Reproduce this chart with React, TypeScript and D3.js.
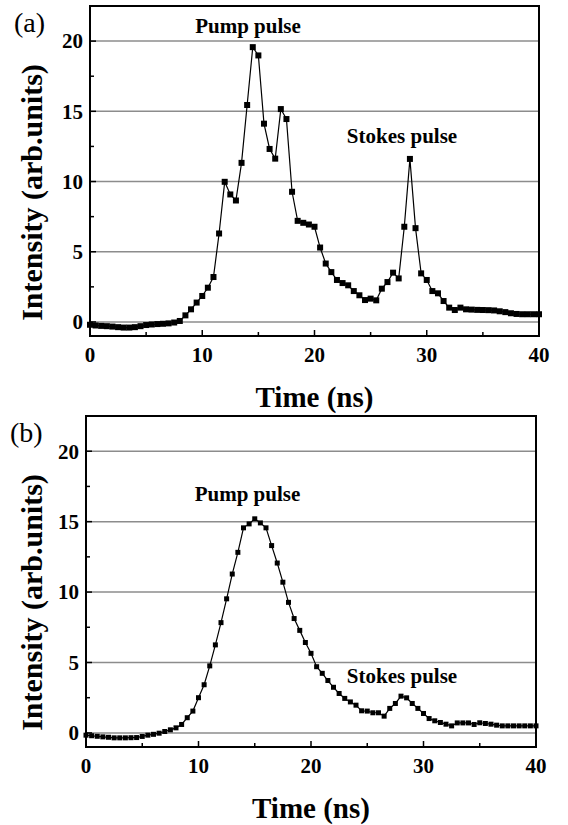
import React from 'react';
import * as d3 from 'd3';

// sampling times (ns), shared by both panels
const times = [
  0, 0.5, 1, 1.5, 2, 2.5, 3, 3.5, 4, 4.5, 5, 5.5, 6, 6.5, 7, 7.5, 8, 8.5, 9, 9.5,
  10, 10.5, 11, 11.5, 12, 12.5, 13, 13.5, 14, 14.5, 15, 15.5, 16, 16.5, 17, 17.5, 18, 18.5, 19, 19.5,
  20, 20.5, 21, 21.5, 22, 22.5, 23, 23.5, 24, 24.5, 25, 25.5, 26, 26.5, 27, 27.5, 28, 28.5, 29, 29.5,
  30, 30.5, 31, 31.5, 32, 32.5, 33, 33.5, 34, 34.5, 35, 35.5, 36, 36.5, 37, 37.5, 38, 38.5, 39, 39.5, 40,
];

// panel (a)
const intensityA = [
  -0.2, -0.25, -0.28, -0.3, -0.33, -0.37, -0.4, -0.4, -0.37, -0.3, -0.22, -0.18, -0.15, -0.13, -0.1, -0.04, 0.07, 0.47, 0.9, 1.38,
  1.85, 2.44, 3.2, 6.3, 9.98, 9.08, 8.65, 11.33, 15.45, 19.57, 18.98, 14.12, 12.32, 11.63, 15.16, 14.45, 9.27, 7.2, 7.06, 6.94,
  6.78, 5.3, 4.16, 3.55, 2.99, 2.77, 2.61, 2.2, 1.9, 1.56, 1.66, 1.54, 2.37, 2.84, 3.51, 3.1, 6.78, 11.61, 6.68, 3.46,
  2.99, 2.2, 2.04, 1.49, 1.02, 0.85, 1.02, 0.9, 0.88, 0.86, 0.85, 0.84, 0.82, 0.76, 0.7, 0.62, 0.57, 0.55, 0.55, 0.55, 0.55,
];

// panel (b)
const intensityB = [
  -0.16, -0.2, -0.24, -0.28, -0.31, -0.35, -0.35, -0.35, -0.34, -0.33, -0.25, -0.16, -0.1, -0.02, 0.1, 0.22, 0.36, 0.6, 1.08, 1.55,
  2.5, 3.42, 4.76, 6.25, 7.83, 9.52, 11.28, 12.82, 14.56, 14.84, 15.2, 14.91, 14.56, 13.3, 12.06, 10.7, 9.27, 8.12, 7.28, 6.42,
  5.65, 4.7, 4.23, 3.72, 3.24, 2.8, 2.45, 2.2, 1.97, 1.57, 1.55, 1.43, 1.43, 1.19, 1.74, 2.09, 2.61, 2.49, 2.09, 1.74,
  1.38, 1.02, 0.86, 0.74, 0.62, 0.5, 0.71, 0.71, 0.71, 0.6, 0.72, 0.67, 0.62, 0.55, 0.5, 0.5, 0.5, 0.5, 0.5, 0.5, 0.5,
];

const xMajor = [0, 10, 20, 30, 40];
const xMinor = [5, 15, 25, 35];
const yMajor = [0, 5, 10, 15, 20];
const yMinor = [2.5, 7.5, 12.5, 17.5];

const serif = { fontFamily: 'Liberation Serif' };
const serifBold = { fontFamily: 'Liberation Serif', fontWeight: 'bold' as const };

type PanelProps = {
  tag: string;
  values: number[];
  left: number;
  right: number;
  top: number;
  bottom: number;
  marker: number;
  pump: [number, number];
  stokes: [number, number];
};

function Panel({ tag, values, left, right, top, bottom, marker, pump, stokes }: PanelProps) {
  const x = d3.scaleLinear().domain([0, 40]).range([left, right]);
  const y = d3.scaleLinear().domain([-1, 22.5]).range([bottom, top]);
  const pts = times.map((t, i) => [t, values[i]] as [number, number]);
  const line = d3.line<[number, number]>().x(d => x(d[0])).y(d => y(d[1]));

  return (
    <g>
      {/* grid */}
      {yMajor.map(v => (
        <line key={'g' + v} x1={left} x2={right} y1={y(v)} y2={y(v)} stroke="#8c8c8c" strokeWidth={1.5} />
      ))}

      {/* ticks, inside */}
      {xMajor.map(v => (
        <line key={'xM' + v} x1={x(v)} x2={x(v)} y1={bottom} y2={bottom - 6} stroke="#000" strokeWidth={1.5} />
      ))}
      {xMinor.map(v => (
        <line key={'xm' + v} x1={x(v)} x2={x(v)} y1={bottom} y2={bottom - 4} stroke="#000" strokeWidth={1.5} />
      ))}
      {yMajor.map(v => (
        <line key={'yM' + v} x1={left} x2={left + 6} y1={y(v)} y2={y(v)} stroke="#000" strokeWidth={1.5} />
      ))}
      {yMinor.map(v => (
        <line key={'ym' + v} x1={left} x2={left + 4} y1={y(v)} y2={y(v)} stroke="#000" strokeWidth={1.5} />
      ))}

      {/* data */}
      <path d={line(pts) || ''} fill="none" stroke="#000" strokeWidth={1.2} />
      {pts.map(d => (
        <rect key={d[0]} x={x(d[0]) - marker / 2} y={y(d[1]) - marker / 2} width={marker} height={marker} fill="#000" />
      ))}

      {/* frame */}
      <rect x={left} y={top} width={right - left} height={bottom - top} fill="none" stroke="#000" strokeWidth={2} />

      {/* tick labels */}
      <g style={serifBold} fontSize={21}>
        {xMajor.map(v => (
          <text key={'xl' + v} x={x(v)} y={bottom + 26} textAnchor="middle">{v}</text>
        ))}
        {yMajor.map(v => (
          <text key={'yl' + v} x={left - 7} y={y(v)} dy="0.35em" textAnchor="end">{v}</text>
        ))}
      </g>

      {/* axis titles */}
      <text x={(left + right) / 2} y={bottom + 71} textAnchor="middle" style={serifBold} fontSize={29}>
        Time (ns)
      </text>
      <text
        transform={`translate(42,${top + 186.5}) rotate(-90)`}
        textAnchor="middle"
        style={serifBold}
        fontSize={30}
      >
        Intensity (arb.units)
      </text>

      {/* annotations */}
      <g style={serifBold} fontSize={21}>
        <text x={pump[0]} y={pump[1]} textAnchor="middle">Pump pulse</text>
        <text x={stokes[0]} y={stokes[1]} textAnchor="middle">Stokes pulse</text>
      </g>

      <text x={left - 76} y={top + 26} style={serif} fontSize={28}>{tag}</text>
    </g>
  );
}

export default function App() {
  return (
    <svg
      width={568}
      height={825}
      style={{ position: 'absolute', left: 0, top: 0, background: '#fff' }}
    >
      <Panel tag="(a)" values={intensityA} left={90} right={539} top={6} bottom={336} marker={6}
        pump={[248, 33]} stokes={[402, 143]} />
      <Panel tag="(b)" values={intensityB} left={86} right={536} top={416} bottom={747} marker={5}
        pump={[247.5, 501]} stokes={[402, 683]} />
    </svg>
  );
}
